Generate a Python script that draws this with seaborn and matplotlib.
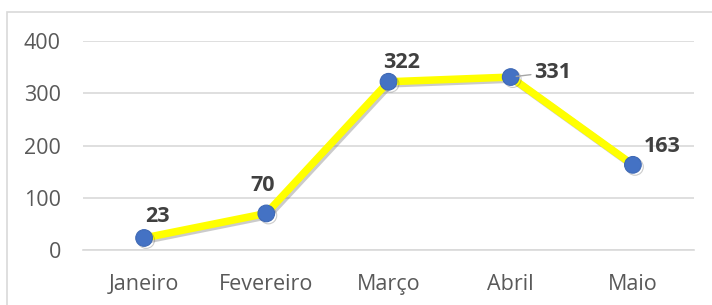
import matplotlib
matplotlib.use("Agg")
import matplotlib.pyplot as plt
import matplotlib.patheffects as pe
from matplotlib.patches import Rectangle
import seaborn as sns
import pandas as pd

# Data
months = ["Janeiro", "Fevereiro", "Março", "Abril", "Maio"]
values = [23, 70, 322, 331, 163]
# label offsets in pixels (x, y) relative to each point
label_dx = [13, -4, 13, 42, 29]
label_dy = [21, 28, 19, 5, 18]

df = pd.DataFrame({"mes": months, "valor": values})

sns.set_style("white")
plt.rcParams["font.family"] = ["Open Sans", "DejaVu Sans"]

fig = plt.figure(figsize=(7.12, 3.05), dpi=100)
ax = fig.add_axes([83 / 712, 1 - 250 / 305, (694 - 83) / 712, (250 - 41) / 305])

# chart border
fig.patches.append(Rectangle((7 / 712, -0.1), 1.2, 1 - 12 / 305 + 0.1,
                             transform=fig.transFigure, fill=False,
                             edgecolor="#D9D9D9", lw=1.2, zorder=0))

shadow = [pe.SimpleLineShadow(offset=(1.5, -1.5), shadow_color="#555555", alpha=0.3), pe.Normal()]
sns.lineplot(data=df, x="mes", y="valor", sort=False, ax=ax, color="#FFFF00",
             lw=5.4, marker="o", markersize=12, markerfacecolor="#4472C4",
             markeredgecolor="#3F69B5", markeredgewidth=0.8,
             path_effects=shadow, zorder=3)

for i, v in enumerate(values):
    kw = {}
    if months[i] == "Abril":
        kw["arrowprops"] = dict(arrowstyle="-", color="#A6A6A6", lw=1,
                                shrinkA=0, shrinkB=4)
    ax.annotate(str(v), xy=(i, v), xytext=(label_dx[i], label_dy[i]),
                textcoords="offset pixels", ha="center", va="center",
                fontsize=15.5, fontweight="bold", color="#404040", zorder=5, **kw)

ax.set_ylim(0, 400)
ax.set_xlim(-0.5, 4.5)
ax.set_yticks([0, 100, 200, 300, 400])
ax.set_xticks(range(len(months)))
ax.set_xticklabels(months)
ax.set_xticks([i - 0.5 for i in range(len(months) + 1)], minor=True)
ax.set_xlabel("")
ax.set_ylabel("")
ax.grid(axis="y", color="#D9D9D9", lw=1.2)
ax.set_axisbelow(True)
for s in ["top", "right", "left"]:
    ax.spines[s].set_visible(False)
ax.spines["bottom"].set_color("#D9D9D9")
ax.spines["bottom"].set_linewidth(1.2)
ax.tick_params(axis="y", length=0, pad=16, labelsize=15.5, labelcolor="#595959")
ax.tick_params(axis="x", which="major", length=0, pad=17, labelsize=15.5, labelcolor="#595959")
ax.tick_params(axis="x", which="minor", length=4, width=1.2, color="#D9D9D9", direction="out")

fig.savefig("out.png", dpi=100)
